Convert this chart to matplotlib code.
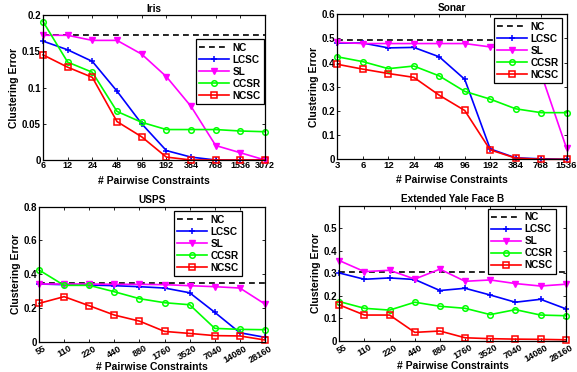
import matplotlib
matplotlib.use("Agg")
import matplotlib.pyplot as plt
import matplotlib.transforms as mtransforms
import numpy as np

plt.rcParams['font.family'] = ['Liberation Sans', 'DejaVu Sans']
plt.rcParams['font.weight'] = 'bold'

methods = ["NC", "LCSC", "SL", "CCSR", "NCSC"]

# Iris
iris_x = ["6", "12", "24", "48", "96", "192", "384", "768", "1536", "3072"]
iris_nc = 0.173
iris_lcsc = [0.164, 0.152, 0.136, 0.095, 0.050, 0.013, 0.004, 0.0, 0.0, 0.0]
iris_sl = [0.172, 0.172, 0.165, 0.165, 0.146, 0.115, 0.074, 0.020, 0.010, 0.0]
iris_ccsr = [0.191, 0.135, 0.121, 0.067, 0.052, 0.042, 0.042, 0.042, 0.040, 0.039]
iris_ncsc = [0.145, 0.128, 0.114, 0.053, 0.032, 0.004, 0.0, 0.0, 0.0, 0.0]

# Sonar
sonar_x = ["3", "6", "12", "24", "48", "96", "192", "384", "768", "1536"]
sonar_nc = 0.494
sonar_lcsc = [0.481, 0.481, 0.461, 0.463, 0.424, 0.331, 0.043, 0.006, 0.002, 0.0]
sonar_sl = [0.484, 0.479, 0.479, 0.479, 0.479, 0.479, 0.465, 0.460, 0.355, 0.046]
sonar_ccsr = [0.424, 0.404, 0.375, 0.386, 0.345, 0.281, 0.249, 0.209, 0.193, 0.193]
sonar_ncsc = [0.393, 0.373, 0.355, 0.339, 0.265, 0.202, 0.039, 0.005, 0.0, 0.0]

# USPS
usps_x = ["55", "110", "220", "440", "880", "1760", "3520", "7040", "14080", "28160"]
usps_nc = 0.350
usps_lcsc = [0.342, 0.338, 0.336, 0.332, 0.326, 0.318, 0.290, 0.174, 0.053, 0.026]
usps_sl = [0.342, 0.342, 0.342, 0.340, 0.340, 0.338, 0.332, 0.326, 0.318, 0.223]
usps_ccsr = [0.425, 0.334, 0.334, 0.296, 0.255, 0.231, 0.219, 0.079, 0.073, 0.071]
usps_ncsc = [0.227, 0.267, 0.213, 0.158, 0.122, 0.061, 0.049, 0.036, 0.034, 0.010]

# Extended Yale Face B
yale_x = ["55", "110", "220", "440", "880", "1760", "3520", "7040", "14080", "28160"]
yale_nc = 0.306
yale_lcsc = [0.301, 0.273, 0.279, 0.272, 0.223, 0.233, 0.203, 0.171, 0.184, 0.142]
yale_sl = [0.356, 0.307, 0.313, 0.274, 0.318, 0.264, 0.270, 0.254, 0.243, 0.251]
yale_ccsr = [0.174, 0.144, 0.136, 0.171, 0.153, 0.144, 0.116, 0.138, 0.114, 0.111]
yale_ncsc = [0.159, 0.114, 0.114, 0.037, 0.043, 0.013, 0.009, 0.007, 0.006, 0.004]

panels = [
    dict(title="Iris", x=iris_x, nc=iris_nc, lcsc=iris_lcsc, sl=iris_sl, ccsr=iris_ccsr, ncsc=iris_ncsc,
         ylim=(0, 0.2), yticks=[0, 0.05, 0.1, 0.15, 0.2], yticklabels=["0", "0.05", "0.1", "0.15", "0.2"],
         rect=[43/577, 1-160/372, 222/577, 145/372], rot=0, leg=(0.995, 0.834), xlab_y=-16/145, xfs=6.5),
    dict(title="Sonar", x=sonar_x, nc=sonar_nc, lcsc=sonar_lcsc, sl=sonar_sl, ccsr=sonar_ccsr, ncsc=sonar_ncsc,
         ylim=(0, 0.6), yticks=[0, 0.1, 0.2, 0.3, 0.4, 0.5, 0.6], yticklabels=["0", "0.1", "0.2", "0.3", "0.4", "0.5", "0.6"],
         rect=[337.5/577, 1-159.3/372, 229/577, 145/372], rot=0, leg=(0.980, 0.974), xlab_y=-16/145, xfs=6.8),
    dict(title="USPS", x=usps_x, nc=usps_nc, lcsc=usps_lcsc, sl=usps_sl, ccsr=usps_ccsr, ncsc=usps_ncsc,
         ylim=(0, 0.8), yticks=[0, 0.2, 0.4, 0.6, 0.8], yticklabels=["0", "0.2", "0.4", "0.6", "0.8"],
         rect=[39/577, 1-341.7/372, 226/577, 135/372], rot=30, leg=(0.898, 0.968), xlab_y=-20/135, xfs=6.6),
    dict(title="Extended Yale Face B", x=yale_x, nc=yale_nc, lcsc=yale_lcsc, sl=yale_sl, ccsr=yale_ccsr, ncsc=yale_ncsc,
         ylim=(0, 0.6), yticks=[0, 0.1, 0.2, 0.3, 0.4, 0.5], yticklabels=["0", "0.1", "0.2", "0.3", "0.4", "0.5"],
         rect=[339.3/577, 1-340.7/372, 226.4/577, 135/372], rot=30, leg=(0.957, 0.976), xlab_y=-20/135, xfs=6.6),
]

fig = plt.figure(figsize=(5.77, 3.72), dpi=100)
lw = 1.2
ms = 4.0
for p in panels:
    ax = fig.add_axes(p["rect"])
    idx = np.arange(len(p["x"]))
    ax.plot([idx[0], idx[-1]], [p["nc"], p["nc"]], color="black", ls=(0, (3.5, 2.5)), lw=lw, label="NC")
    ax.plot(idx, p["lcsc"], color=(0, 0, 1), marker="+", ms=ms + 1, mew=1.1, lw=lw, label="LCSC", clip_on=False)
    ax.plot(idx, p["sl"], color=(1, 0, 1), marker="v", ms=ms, lw=lw, label="SL", clip_on=False)
    ax.plot(idx, p["ccsr"], color=(0, 1, 0), marker="o", ms=ms, mfc="none", mew=1.1, lw=lw, label="CCSR", clip_on=False)
    ax.plot(idx, p["ncsc"], color=(1, 0, 0), marker="s", ms=ms, mfc="none", mew=1.1, lw=lw, label="NCSC", clip_on=False)
    ax.set_xlim(idx[0], idx[-1])
    ax.set_ylim(*p["ylim"])
    ax.set_xticks(idx)
    ax.set_yticks(p["yticks"])
    ax.set_yticklabels(p["yticklabels"])
    ax.tick_params(direction="in", top=True, right=True, length=2.5, width=0.6, labelsize=7.0, pad=1.5)
    if p["rot"]:
        ax.set_xticklabels(p["x"], rotation=p["rot"], ha="right", va="top", rotation_mode="anchor")
        ax.tick_params(axis="x", pad=1.5, labelsize=p["xfs"])
        off = mtransforms.ScaledTranslation(4.5 / 100, 0, fig.dpi_scale_trans)
        for lab in ax.get_xticklabels():
            lab.set_transform(lab.get_transform() + off)
    else:
        ax.set_xticklabels(p["x"])
        ax.tick_params(axis="x", pad=1.0, labelsize=p["xfs"])
    for s in ax.spines.values():
        s.set_linewidth(0.9)
    ax.set_title(p["title"], fontsize=7.2, fontweight="bold", pad=2.5)
    ax.set_xlabel("# Pairwise Constraints", fontsize=7.5, fontweight="bold")
    ax.xaxis.set_label_coords(0.5, p["xlab_y"])
    ax.set_ylabel("Clustering Error", fontsize=7.5, fontweight="bold", labelpad=2)
    leg = ax.legend(loc="upper right", bbox_to_anchor=p["leg"], borderaxespad=0, fontsize=7.2,
                    frameon=True, fancybox=False, edgecolor="black", framealpha=1,
                    handlelength=3.0, labelspacing=0.2, borderpad=0.35, handletextpad=0.3)
    leg.get_frame().set_linewidth(0.9)
    leg.set_zorder(10)

fig.savefig("out.png", dpi=100)
